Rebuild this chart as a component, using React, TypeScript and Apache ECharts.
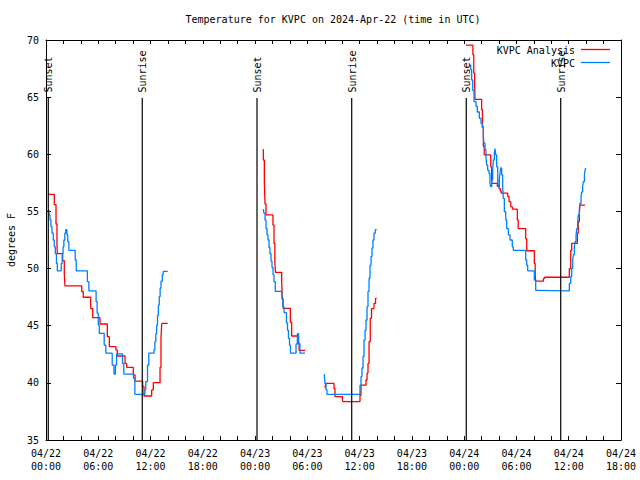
import React, { useEffect, useRef } from 'react';
import * as echarts from 'echarts';

const FONT_FAMILY = '"DejaVu Sans Mono", "Liberation Mono", monospace';
const FONT = `10px ${FONT_FAMILY}`;

const TITLE = 'Temperature for KVPC on 2024-Apr-22 (time in UTC)';
const Y_NAME = 'degrees F';
const SERIES_NAMES = ['KVPC Analysis', 'KVPC'];
const SERIES_COLORS = ['#ff0000', '#0080ff'];

const DAY_LABELS = ['04/22', '04/23', '04/24'];
const HOUR_LABELS = ['00:00', '06:00', '12:00', '18:00'];

const X_MIN = 0;
const X_MAX = 66;
const X_STEP = 6;
const Y_MIN = 35;
const Y_MAX = 70;
const Y_STEP = 5;

// hours since 04/22 00:00 UTC
const EVENT_TIMES = [0.26, 11.05, 24.22, 35.09, 48.24, 59.08];
const EVENT_NAMES = ['Sunset', 'Sunrise', 'Sunset', 'Sunrise', 'Sunset', 'Sunrise'];
const EVENT_LINE_TOP = 64.93;
const EVENT_LABEL_BASE = 65.4;

// KVPC Analysis (red), [hours, degF]
const analysisDay1 = [
  [0.26, 56.5], [0.95, 55.6], [1.15, 53.9], [1.26, 52.1], [1.3, 51.3], [1.91, 50.7], [2.1, 49.5],
  [2.18, 48.48], [4.1, 47.98], [4.28, 47.49], [5.13, 46.5], [5.36, 45.7], [6.2, 45.15], [7.04, 44.04],
  [7.27, 43.17], [8.03, 42.88], [8.18, 42.35], [9.07, 41.7], [9.26, 41.36], [10.02, 40.69], [10.22, 40.16],
  [11.1, 39.67], [11.25, 38.85], [12.13, 39.38], [12.32, 40.02], [13.09, 41.36], [13.2, 43.9], [13.28, 45.2],
  [13.97, 45.2],
];
const analysisDay2a = [
  [24.94, 60.46], [24.95, 59.5], [25.06, 57.6], [25.14, 55.65], [25.25, 54.69], [26.05, 53.81], [26.17, 52.2],
  [26.27, 50.46], [26.35, 49.67], [27.05, 48.85], [27.12, 47.31], [27.22, 46.52], [28.05, 45.3], [28.2, 44.1],
  [28.9, 43.5], [29.05, 42.85], [29.73, 42.85],
];
const analysisDay2b = [
  [31.94, 39.65], [32.08, 39.95], [33.06, 39.5], [33.17, 38.8], [34.03, 38.5], [34.09, 38.35], [36.04, 38.9],
  [36.16, 39.8], [36.73, 40.25], [36.85, 40.85], [36.96, 41.7], [37.08, 43.6], [37.22, 45.65], [37.36, 46.5],
  [37.65, 46.95], [37.82, 47.4], [37.96, 47.4],
];
const analysisDay3 = [
  [48.21, 69.56], [49.0, 68.7], [49.1, 67.1], [49.2, 66.2], [49.24, 64.8], [50.0, 63.9], [50.1, 62.4],
  [50.2, 60.7], [50.3, 59.94], [51.05, 58.9], [51.15, 57.46], [51.8, 57.2], [52.0, 57.0], [52.15, 56.8],
  [52.25, 56.6], [53.0, 56.3], [53.15, 55.85], [53.35, 55.4], [53.55, 55.2], [54.1, 54.25], [54.2, 53.5],
  [55.06, 52.6], [55.18, 51.56], [56.05, 50.45], [56.15, 49.44], [56.2, 48.9], [57.1, 49.15], [57.25, 49.24],
  [60.07, 50.0], [60.23, 51.6], [60.34, 52.2], [60.99, 53.1], [61.1, 54.1], [61.22, 54.83], [61.29, 55.56],
  [61.87, 55.56],
];

// KVPC observations (blue), [hours, degF]
const obsDay1 = [
  [0.2, 55.1], [0.34, 54.7], [0.46, 54.25], [0.57, 53.67], [0.69, 53.1], [0.84, 52.5], [0.95, 51.9],
  [1.07, 51.3], [1.2, 50.45], [1.3, 49.8], [1.75, 50.45], [1.86, 51.3], [1.96, 51.9], [2.05, 52.5],
  [2.16, 53.1], [2.26, 53.4], [2.4, 52.94], [2.5, 52.35], [2.62, 51.6], [3.35, 50.75], [3.47, 49.8],
  [4.75, 48.85], [4.92, 48.04], [5.75, 47.1], [5.87, 46.1], [6.0, 45.06], [6.12, 44.33], [6.68, 43.3],
  [6.87, 42.6], [7.6, 41.55], [7.8, 40.77], [7.97, 41.55], [8.1, 42.53], [8.78, 41.7], [8.93, 40.77],
  [10.05, 40.4], [10.2, 39.0], [11.35, 39.4], [11.45, 40.1], [11.65, 41.55], [11.8, 42.6], [12.4, 42.9],
  [12.5, 43.6], [12.6, 44.3], [12.7, 45.05], [12.8, 45.9], [12.9, 46.8], [13.0, 47.55], [13.1, 48.3],
  [13.2, 48.9], [13.35, 49.45], [13.45, 49.75], [13.97, 49.75],
];
const obsDay2a = [
  [24.94, 55.2], [25.02, 54.85], [25.14, 54.25], [25.25, 53.5], [25.37, 52.95], [25.48, 52.5], [25.6, 51.85],
  [25.71, 51.3], [25.83, 50.65], [25.94, 50.1], [26.06, 49.45], [26.17, 48.85], [26.32, 48.0], [27.08, 47.4],
  [27.2, 46.65], [27.32, 46.15], [27.6, 45.25], [27.72, 44.6], [27.83, 43.9], [27.95, 43.3], [28.06, 42.6],
  [28.7, 43.4], [28.85, 44.3], [29.0, 43.4], [29.15, 42.6], [29.73, 42.6],
];
const obsDay2b = [
  [31.94, 40.75], [32.02, 39.95], [32.14, 39.4], [32.25, 39.0], [36.04, 39.8], [36.16, 40.55], [36.27, 41.3],
  [36.39, 42.3], [36.5, 43.75], [36.62, 44.6], [36.73, 45.5], [36.85, 46.65], [36.96, 48.0], [37.08, 49.15],
  [37.19, 50.3], [37.31, 51.05], [37.42, 51.8], [37.53, 52.5], [37.65, 53.1], [37.8, 53.4], [37.96, 53.4],
];
const obsDay3 = [
  [48.59, 67.8], [48.75, 67.4], [48.86, 66.5], [48.98, 65.6], [49.13, 64.6], [49.36, 64.2], [49.51, 63.7],
  [49.74, 63.15], [49.93, 62.7], [50.08, 62.35], [50.2, 61.5], [50.28, 60.96], [50.39, 60.4], [50.5, 59.8],
  [50.58, 59.06], [50.7, 58.6], [50.85, 58.3], [50.96, 57.46], [51.04, 57.17], [51.16, 57.75], [51.27, 58.6],
  [51.34, 59.5], [51.46, 60.1], [51.54, 60.5], [51.62, 59.94], [51.73, 58.9], [51.85, 57.46], [51.92, 57.17],
  [52.03, 57.75], [52.11, 58.3], [52.19, 58.8], [52.3, 58.2], [52.42, 57.17], [52.49, 56.15], [52.61, 54.98],
  [52.77, 54.25], [52.88, 53.5], [53.07, 52.94], [53.26, 52.5], [53.52, 51.9], [53.64, 51.6], [55.06, 50.75],
  [55.18, 50.3], [55.29, 49.8], [56.05, 49.0], [56.21, 48.1], [56.32, 48.04], [60.07, 48.7], [60.23, 49.3],
  [60.34, 50.0], [60.46, 50.75], [60.53, 51.2], [60.64, 51.9], [60.72, 52.35], [60.84, 52.94], [60.92, 53.5],
  [61.03, 54.1], [61.1, 54.7], [61.22, 55.3], [61.29, 55.7], [61.41, 56.3], [61.49, 56.7], [61.6, 57.17],
  [61.67, 57.6], [61.8, 58.2], [61.87, 58.6], [61.95, 58.8],
];

// segments are joined by an empty point placed at the previous segment's last time
function joinSegments(segs: number[][][]) {
  const out: any[] = [];
  segs.forEach((s, i) => {
    if (i > 0) {
      const prev = segs[i - 1];
      out.push([prev[prev.length - 1][0], null]);
    }
    s.forEach((p) => out.push([p[0], p[1]]));
  });
  return out;
}

function xLabel(v: number) {
  const day = Math.floor(v / 24);
  const hourIdx = Math.round((v % 24) / 6);
  return `${DAY_LABELS[day] ?? ''}\n${HOUR_LABELS[hourIdx] ?? ''}`;
}

export default function App() {
  const ref = useRef<HTMLDivElement>(null);
  useEffect(() => {
    document.body.style.margin = '0';
    if (!ref.current) return;
    const chart = echarts.init(ref.current, null, { renderer: 'svg' });
    const black = '#000';
    const baseX = {
      type: 'value',
      min: X_MIN,
      max: X_MAX,
      interval: X_STEP,
      axisLine: { show: true, onZero: false, lineStyle: { color: black, width: 1 } },
      axisTick: { show: true, inside: true, length: 4, lineStyle: { color: black } },
      minorTick: { show: true, splitNumber: 3, length: 4, lineStyle: { color: black } },
      splitLine: { show: false },
      minorSplitLine: { show: false },
    };
    const baseY = {
      type: 'value',
      min: Y_MIN,
      max: Y_MAX,
      interval: Y_STEP,
      axisLine: { show: true, onZero: false, lineStyle: { color: black, width: 1 } },
      axisTick: { show: true, inside: true, length: 5, lineStyle: { color: black } },
      splitLine: { show: false },
    };
    chart.setOption({
      animation: false,
      backgroundColor: '#fff',
      grid: { left: 46, top: 40, width: 575, height: 400, containLabel: false },
      xAxis: [
        {
          ...baseX,
          position: 'bottom',
          axisLabel: {
            show: true,
            formatter: xLabel,
            fontFamily: FONT_FAMILY,
            fontSize: 10,
            color: black,
            margin: 7,
            lineHeight: 13,
          },
        },
        { ...baseX, position: 'top', axisLabel: { show: false } },
      ],
      yAxis: [
        {
          ...baseY,
          position: 'left',
          axisLabel: { show: true, fontFamily: FONT_FAMILY, fontSize: 10, color: black, margin: 7 },
        },
        { ...baseY, position: 'right', axisLabel: { show: false } },
      ],
      series: [
        {
          type: 'line',
          name: SERIES_NAMES[0],
          data: joinSegments([analysisDay1, analysisDay2a, analysisDay2b, analysisDay3]),
          step: 'end',
          showSymbol: false,
          symbol: 'none',
          connectNulls: false,
          lineStyle: { color: SERIES_COLORS[0], width: 1.3 },
          itemStyle: { color: SERIES_COLORS[0] },
          z: 2,
        },
        {
          type: 'line',
          name: SERIES_NAMES[1],
          data: joinSegments([obsDay1, obsDay2a, obsDay2b, obsDay3]),
          step: 'end',
          showSymbol: false,
          symbol: 'none',
          connectNulls: false,
          lineStyle: { color: SERIES_COLORS[1], width: 1.3 },
          itemStyle: { color: SERIES_COLORS[1] },
          z: 3,
        },
        {
          type: 'custom',
          silent: true,
          z: 4,
          data: EVENT_TIMES.map((t) => [t, Y_MIN]),
          renderItem: (params: any, api: any) => {
            const t = api.value(0);
            const b = api.coord([t, Y_MIN]);
            const top = api.coord([t, EVENT_LINE_TOP]);
            const lab = api.coord([t, EVENT_LABEL_BASE]);
            return {
              type: 'group',
              children: [
                {
                  type: 'line',
                  shape: { x1: b[0], y1: b[1], x2: top[0], y2: top[1] },
                  style: { stroke: black, lineWidth: 1.2 },
                },
                {
                  type: 'text',
                  x: lab[0] + 0.5,
                  y: lab[1],
                  rotation: Math.PI / 2,
                  style: {
                    text: EVENT_NAMES[params.dataIndex],
                    fill: black,
                    font: FONT,
                    align: 'left',
                    verticalAlign: 'middle',
                  },
                },
              ],
            };
          },
        },
      ],
      graphic: [
        {
          type: 'text',
          x: 333,
          y: 19,
          z: 10,
          style: { text: TITLE, font: FONT, fill: black, align: 'center', verticalAlign: 'middle' },
        },
        {
          type: 'text',
          x: 11,
          y: 240,
          rotation: Math.PI / 2,
          z: 10,
          style: { text: Y_NAME, font: FONT, fill: black, align: 'center', verticalAlign: 'middle' },
        },
        {
          type: 'text',
          x: 575,
          y: 50,
          z: 10,
          style: { text: SERIES_NAMES[0], font: FONT, fill: black, align: 'right', verticalAlign: 'middle' },
        },
        {
          type: 'line',
          z: 10,
          shape: { x1: 581, y1: 49.5, x2: 610, y2: 49.5 },
          style: { stroke: SERIES_COLORS[0], lineWidth: 1.3 },
        },
        {
          type: 'text',
          x: 575,
          y: 63,
          z: 10,
          style: { text: SERIES_NAMES[1], font: FONT, fill: black, align: 'right', verticalAlign: 'middle' },
        },
        {
          type: 'line',
          z: 10,
          shape: { x1: 581, y1: 62.5, x2: 610, y2: 62.5 },
          style: { stroke: SERIES_COLORS[1], lineWidth: 1.3 },
        },
      ],
    });
    return () => chart.dispose();
  }, []);
  return <div ref={ref} style={{ width: 640, height: 480 }} />;
}
